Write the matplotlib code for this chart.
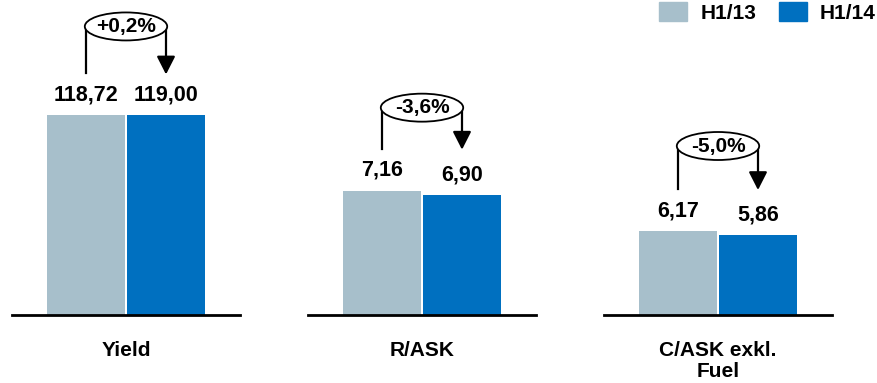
import matplotlib
matplotlib.use("Agg")
import matplotlib.pyplot as plt
from matplotlib import transforms
from matplotlib.patches import Ellipse, Patch

plt.rcParams['font.family'] = ['Liberation Sans', 'DejaVu Sans']
plt.rcParams['font.weight'] = 'bold'

# ---------------- COLORS ----------------
LIGHT = "#A7BFCB"
DARK = "#0070C0"

# ---------------- DATA ----------------
categories = ["Yield", "R/ASK", "C/ASK exkl.\nFuel"]
periods = ["H1/13", "H1/14"]
h1_13 = [118.72, 7.16, 6.17]
h1_14 = [119.00, 6.90, 5.86]
changes = ["+0,2%", "-3,6%", "-5,0%"]

# each metric gets its own value scale (top of the y axis per panel)
ymax = [187.4, 18.14, 23.14]
# how high the change bubble sits above the first bar (pixels)
bubble_rise = [89, 83, 85]

W, H = 878, 383
fig = plt.figure(figsize=(W / 100, H / 100), dpi=100)


def fmt(v):
    return f"{v:.2f}".replace(".", ",")


for i, cat in enumerate(categories):
    ax = fig.add_axes([(12 + 296 * i) / W, 68 / H, 228 / W, 315 / H])
    a, b = h1_13[i], h1_14[i]
    xs = [-0.5, 0.5]
    ax.bar(xs, [a, b], width=0.97, color=[LIGHT, DARK])
    ax.set_xlim(-1.425, 1.425)
    ax.set_ylim(0, ymax[i])
    for s in ['top', 'right', 'left']:
        ax.spines[s].set_visible(False)
    ax.spines['bottom'].set_linewidth(2)
    ax.set_yticks([])
    ax.set_xticks([0])
    ax.set_xticklabels([cat], fontsize=15, fontweight='bold', linespacing=1.1)
    ax.tick_params(axis='x', length=0, pad=19)

    # value labels
    for x, v in zip(xs, [a, b]):
        ax.annotate(fmt(v), (x, v), xytext=(0, 7), textcoords='offset points',
                    ha='center', va='bottom', fontsize=15.5, fontweight='bold')

    # change bubble: x in data, y in pixels
    blend = transforms.blended_transform_factory(ax.transData, transforms.IdentityTransform())
    top = ax.transData.transform((0, a))[1]
    yc = top + bubble_rise[i]
    ylow = top + 42
    ax.plot([xs[0], xs[0]], [ylow, yc], color='black', lw=1.6,
            transform=blend, clip_on=False)
    ax.annotate('', xy=(xs[1], ylow - 1), xytext=(xs[1], yc), xycoords=blend,
                arrowprops=dict(arrowstyle='-|>,head_length=0.55,head_width=0.28',
                                mutation_scale=20, color='black', lw=1.6,
                                shrinkA=0, shrinkB=0),
                annotation_clip=False)
    ax.add_patch(Ellipse((0, yc), 1.03, 28, transform=blend, facecolor='white',
                         edgecolor='black', lw=1.3, zorder=5, clip_on=False))
    ax.text(0, yc, changes[i], transform=blend, ha='center', va='center',
            fontsize=15, fontweight='bold', zorder=6)

# ---------------- LEGEND ----------------
fig.legend(handles=[Patch(color=LIGHT), Patch(color=DARK)], labels=periods,
           loc='upper right', bbox_to_anchor=(876 / W, 1 - 2 / H), ncol=2,
           frameon=False, prop=dict(size=15, weight='bold'),
           handlelength=1.35, handleheight=1.06, handletextpad=0.62,
           columnspacing=1.1, borderpad=0, borderaxespad=0)

fig.savefig("out.png", dpi=100)
